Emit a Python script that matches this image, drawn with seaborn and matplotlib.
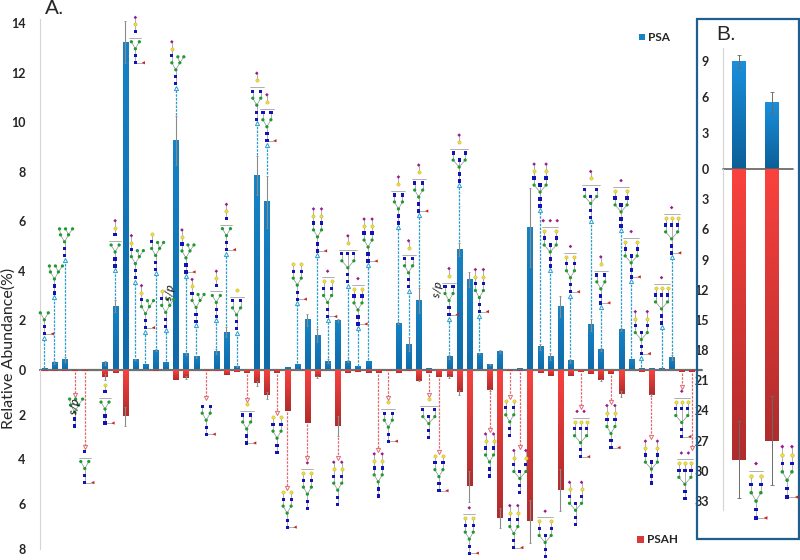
import matplotlib
matplotlib.use("Agg")
import matplotlib.pyplot as plt
import numpy as np
import pandas as pd
import seaborn as sns
from matplotlib.colors import LinearSegmentedColormap
from matplotlib.patches import Rectangle

# panel A, bar heights
psa = [0.05,0.3,0.43,0,0,0,0.3,2.58,13.25,0.43,0.22,0.8,0.3,9.27,0.65,0.53,0,0.73,1.53,0.15,0,7.85,6.8,0,0.12,
       0.22,2.02,1.4,0.36,2.0,0.36,0.13,0.36,0,0,1.89,1.05,2.8,0.07,0,0.53,4.87,3.65,0.67,0.22,0.74,0,0.08,5.75,
       0.94,0.56,2.58,0.38,0,1.82,0.83,0,1.62,0.43,0.08,0.07,0.05,0.5,0,0]
psah = [0.05,0.03,0.03,0.05,0.06,0.01,0.32,0.12,2.07,0,0,0.05,0,0.43,0.35,0,0.04,0.03,0.22,0.08,0.13,0.6,1.13,
        0.15,1.82,0,2.35,0.3,0,2.5,0.13,0.1,0.15,0.15,0.03,0.14,0.03,0.47,0.14,0.3,0.3,1.0,5.2,0,0.9,6.62,0.05,
        0.05,6.77,0.12,0.27,5.36,0.25,0.07,0.18,0.45,0.18,1.07,0,0.07,1.12,0,0,0.1,0.1]
psa_err = {1:.05,2:.1,6:.08,7:.25,8:.85,9:.03,11:.05,13:.98,14:.04,15:.05,17:.1,18:.2,19:.02,21:.8,22:1.05,26:.23,
           27:.25,28:.08,29:.05,30:.05,35:.03,36:.3,37:.5,40:.07,41:.27,42:.3,43:.03,44:.02,45:.05,48:1.6,49:.13,
           50:.14,51:.42,52:.08,54:.26,55:.05,57:.06,62:.1}
psah_err = {6:.12,8:.43,14:.07,21:.1,22:.15,27:.05,29:.45,37:.03,40:.05,41:.1,42:.7,44:.03,45:.45,48:.97,51:.94,
            55:.03,57:.15,60:.05}

# panel B
b_psa = [8.95, 5.55]
b_psa_err = [0.55, 0.85]
b_psah = [28.9, 27.0]
b_psah_err = [3.8, 4.45]

# glycans: bar, arrow tip, blue, gal, sia, fuc, bisect, extra mannose, drawn on the arrow or not
up_glycans = [
    (0,1.3,0,0,0,1,0,0,1),(1,2.95,0,0,0,0,0,1,1),(2,4.45,0,0,0,0,0,1,1),(7,4.04,1,1,1,0,0,0,1),
    (9,12.25,1,1,1,1,0,0,0),(9,3.57,1,1,1,0,0,1,1),(10,1.55,1,1,1,1,0,1,1),(11,3.9,1,1,0,0,0,1,1),
    (12,1.6,1,1,0,0,0,1,1),(13,11.4,1,1,1,0,0,1,1),(14,3.8,1,1,1,1,0,1,1),(15,1.8,1,1,1,0,0,1,1),
    (17,2.0,1,1,1,0,0,0,1),(18,4.7,1,1,1,1,0,0,1),(19,1.5,2,1,0,0,0,0,1),(21,9.97,2,1,1,0,0,0,1),
    (22,9.1,2,1,1,1,0,0,1),(25,2.7,2,2,0,1,0,0,1),(27,4.65,2,2,2,1,0,0,1),(28,2.0,2,2,1,1,0,0,1),
    (30,3.4,3,2,1,0,0,0,1),(31,1.7,2,2,1,1,0,0,1),(32,4.24,2,2,2,1,0,1,1),(35,5.78,2,1,1,0,0,0,1),
    (36,3.2,2,1,1,0,0,0,1),(37,6.26,2,1,1,1,0,0,1),(40,2.08,2,1,1,1,0,0,1),(41,7.47,2,1,1,0,1,0,1),
    (43,2.2,2,2,2,1,0,0,1),(49,6.46,2,2,2,0,1,0,1),(50,4.04,2,2,3,0,1,0,1),(52,3.0,2,2,1,1,0,1,1),
    (54,6.0,2,1,1,0,1,0,1),(55,2.55,2,1,1,1,0,0,1),(57,5.66,2,2,1,0,1,0,1),(58,3.6,2,2,1,1,1,0,1),
    (59,0.5,2,2,2,1,1,0,1),(61,1.74,3,3,1,0,0,0,1),(62,4.57,3,3,1,1,0,0,1),
]
down_glycans = [
    (3,1.12,0,0,0,0,0,1,1),(4,3.42,1,0,0,1,0,0,1),(6,0.45,1,1,0,1,0,0,0),(16,1.26,2,0,0,1,0,0,1),
    (20,1.34,2,1,0,1,0,0,1),(23,1.93,2,2,0,0,0,0,1),(24,5.28,2,2,0,1,0,0,1),(26,3.94,2,2,1,0,0,0,1),
    (29,3.94,2,2,2,0,0,0,1),(33,3.57,2,2,2,0,0,0,1),(34,1.26,2,1,0,1,0,0,1),(38,1.1,2,1,0,0,1,0,1),
    (39,3.65,2,2,0,1,0,0,1),(42,5.95,2,2,1,1,0,0,0),(44,2.68,2,2,2,0,0,0,1),(46,1.2,2,2,0,0,0,0,1),
    (46.4,5.88,2,2,2,1,0,0,0),(47,3.42,2,2,2,0,1,0,1),(49.5,6.1,2,2,1,0,1,0,0),(52.5,4.84,2,2,2,0,1,0,0),
    (53,1.64,3,3,2,1,0,0,1),(56,1.41,2,2,2,1,0,0,1),(60,3.0,2,2,2,0,1,0,1),(63,0.74,3,3,1,1,0,0,1),
    (64,3.5,3,3,2,0,0,0,1),
]
b_glycans = [(0.52,29.2,2,2,1,1,0,0,0),(1.47,27.6,2,2,2,1,0,0,0)]

BLUE, GREEN, YELLOW, PURPLE, FUC = "#1313b5", "#1f9a30", "#f0e040", "#9a1a8c", "#cc2020"

sns.set_style("white")
plt.rcParams["font.family"] = ["Lato", "DejaVu Sans"]

W, H = 800, 560
fig = plt.figure(figsize=(8, 5.6), dpi=100)


def axes_px(left, top, right, bottom):
    return fig.add_axes([left / W, 1 - bottom / H, (right - left) / W, (bottom - top) / H])


ax_top = axes_px(39.5, 18.5, 702, 370)
ax_bot = axes_px(39.5, 370, 702, 549)
bx_top = axes_px(722.7, 48, 793, 169)
bx_bot = axes_px(722.7, 169, 793, 510)
ov = fig.add_axes([0, 0, 1, 1], zorder=5)
ov.set_xlim(0, W)
ov.set_ylim(H, 0)
ov.axis("off")
ov.patch.set_alpha(0)

blue_cmap = LinearSegmentedColormap.from_list("b", ["#1a8fdc", "#0b5f98"])
blue_a_cmap = LinearSegmentedColormap.from_list("ba", ["#1583c6", "#0f6aa8"])
red_cmap = LinearSegmentedColormap.from_list("r", ["#f9423e", "#b02c2c"])


def bars(ax, values, width, cmap, flip, ylim, xlim, ticks):
    df = pd.DataFrame({"bar": range(len(values)), "val": values})
    sns.barplot(data=df, x="bar", y="val", width=width, color="#888888", errorbar=None, ax=ax, linewidth=0)
    grad = np.linspace(0, 1, 64).reshape(-1, 1)
    for p in list(ax.patches):
        h = p.get_height()
        if h <= 0:
            continue
        l, r = p.get_x(), p.get_x() + p.get_width()
        ext = (l, r, h, 0) if flip else (l, r, 0, h)
        ax.imshow(grad, extent=ext, cmap=cmap, aspect="auto", zorder=2, interpolation="bilinear")
        p.set_visible(False)
    ax.set_xlim(*xlim)
    ax.set_ylim(*ylim)
    ax.set_xticks([])
    ax.set_xlabel("")
    ax.set_ylabel("")
    ax.set_yticks(ticks)
    ax.tick_params(axis="y", length=3, width=0.8, color="#d0d0d0", pad=7, labelsize=9)
    for t in ax.get_yticklabels():
        t.set_fontweight("bold")
    for s in ["top", "right", "bottom"]:
        ax.spines[s].set_visible(False)
    ax.spines["left"].set_color("#d4d4d4")
    ax.patch.set_alpha(0)


xlim_a = (-0.474, 65.0)
xlim_b = (-0.5, 1.65)
bars(ax_top, psa, 0.5, blue_a_cmap, False, (0, 14.2), xlim_a, range(0, 15, 2))
bars(ax_bot, psah, 0.5, red_cmap, True, (8, 0), xlim_a, [2, 4, 6, 8])
bars(bx_top, b_psa, 0.41, blue_cmap, False, (0, 10.08), xlim_b, [0, 3, 6, 9])
bars(bx_bot, b_psah, 0.41, red_cmap, True, (33.9, 0), xlim_b, range(3, 34, 3))

# error bars
for i, e in psa_err.items():
    ax_top.errorbar(i, psa[i], yerr=e, color="#8a8a8a", lw=0.8, capsize=1, capthick=0.6, zorder=3)
for i, e in psah_err.items():
    ax_bot.errorbar(i, psah[i], yerr=e, color="#8a8a8a", lw=0.8, capsize=1, capthick=0.6, zorder=3)
for i in range(2):
    bx_top.errorbar(i, b_psa[i], yerr=b_psa_err[i], color="#6a6a6a", lw=0.7, capsize=1.5, capthick=0.6, zorder=3)
    bx_bot.errorbar(i, b_psah[i], yerr=b_psah_err[i], color="#6a6a6a", lw=0.7, capsize=1.5, capthick=0.6, zorder=3)

ax_top.axhline(0, color="#707070", lw=1.6, zorder=4, clip_on=False)
bx_top.axhline(0, color="#606060", lw=1.2, zorder=4, clip_on=False)


def to_px(ax, x, y):
    dx, dy = ax.transData.transform((x, y))
    return dx, H - dy


def glycan_height(n, g, s, extra, scale):
    h = 21
    if n == 0:
        return (h + (6 if extra else 0)) * scale
    h += 7
    if n == 1 and not extra:
        h += 4
    if g:
        h += 7
    if s:
        h += 7
    if g != n and n > 1:
        h += 4
    if g == n and s != n and s > 0:
        h += 4
    return h * scale


def glycan(cx, by, n, g, s, fuc, bis, extra, scale=1.0):
    # by = pixel row of the core GlcNAc, structure grows upward
    step = 7 * scale
    d = (6 if bis or n == 3 else 4) * scale
    pts = {"s": [], "o": [], "y": [], "p": [], "f": []}
    segs = []

    def add(kind, x, y, frm=None):
        pts[kind].append((x, y))
        if frm is not None:
            segs.append((frm, (x, y)))

    add("s", cx, by)
    add("s", cx, by - step, (cx, by))
    man = (cx, by - 2 * step)
    add("o", *man, (cx, by - step))
    y = by - 3 * step
    add("o", cx - d, y, man)
    add("o", cx + d, y, man)
    if bis:
        add("s", cx, y, man)
    if fuc:
        add("f", cx + 8 * scale, by, (cx, by))
    if n == 0:
        if extra:
            y2 = y - 6 * scale
            add("o", cx + d + 4 * scale, y2, (cx + d, y))
            add("o", cx + d - 3 * scale, y2, (cx + d, y))
            add("o", cx - d - 1 * scale, y2, (cx - d, y))
    else:
        if n == 1 and extra:
            # hybrid: one antenna on the left arm, two mannose on the right
            x0 = cx - d
            add("o", cx + d + 4 * scale, y - 6 * scale, (cx + d, y))
            add("o", cx + d - 2 * scale, y - 6 * scale, (cx + d, y))
            xs = [x0]
            froms = [(x0, y)]
            y -= step
        elif n == 1:
            y -= 4 * scale
            segs.append(((cx - 6 * scale, y), (cx + 6 * scale, y)))
            xs = [cx]
            froms = [None]
            y -= step * 0.9
        else:
            if n == 2:
                xs = [cx - d, cx + d]
                froms = [(cx - d, y), (cx + d, y)]
            else:
                xs = [cx - d, cx, cx + d]
                froms = [(cx - d, y), man, (cx + d, y)]
            y -= step
        for x, f in zip(xs, froms):
            add("s", x, y, f)
        if g == n and g > 0:
            y2 = y - step
            for x in xs:
                add("y", x, y2, (x, y))
            y = y2
            if s == n:
                y2 = y - step
                for x in xs:
                    add("p", x, y2, (x, y))
            elif s > 0:
                y -= 4 * scale
                segs.append(((xs[0] - 2, y), (xs[-1] + 2, y)))
                for k in range(s):
                    add("p", cx + (k - (s - 1) / 2) * 7 * scale, y - step * 0.9)
        elif g > 0:
            # bracket above the blue row when the branch is not fixed
            if n > 1:
                y -= 4 * scale
                segs.append(((xs[0] - 3, y), (xs[-1] + 3, y)))
                y0 = y - step
            else:
                y0 = y - step
                segs.append(((cx, y), (cx, y0)))
            add("y", cx, y0)
            if s > 0:
                add("p", cx, y0 - step, (cx, y0))
    for a, b in segs:
        ov.plot([a[0], b[0]], [a[1], b[1]], color="#8f8f8f", lw=0.5, zorder=1)
    sz = 5.5 * scale
    for kind, marker, col in [("s", "s", BLUE), ("o", "o", GREEN), ("y", "o", YELLOW), ("p", "D", PURPLE), ("f", "<", FUC)]:
        if pts[kind]:
            xy = np.array(pts[kind])
            ec = "#c8b828" if kind == "y" else "none"
            ov.scatter(xy[:, 0], xy[:, 1], s=sz * (0.6 if kind == "p" else 1), marker=marker, c=col,
                       edgecolors=ec, linewidths=0.4, zorder=2)


# arrows and glycans, panel A
for bar, tip, n, g, s, fuc, bis, extra, arrow in up_glycans:
    px, py = to_px(ax_top, bar, tip)
    if arrow:
        start = psa[int(bar)] + psa_err.get(int(bar), 0) + 0.05
        ax_top.plot([bar, bar], [start, tip], color="#2b9ecf", lw=0.9, ls=(0, (2, 1)), zorder=3)
        ax_top.plot(bar, tip, marker="^", ms=3, mfc="white", mec="#2b9ecf", mew=0.7, zorder=3)
    glycan(px, py - 4, n, g, s, fuc, bis, extra)

for bar, tip, n, g, s, fuc, bis, extra, arrow in down_glycans:
    px, py = to_px(ax_bot, bar, tip)
    if arrow:
        start = psah[int(bar)] + psah_err.get(int(bar), 0) + 0.05
        ax_bot.plot([bar, bar], [start, tip], color="#e06a72", lw=0.9, ls=(0, (2, 1)), zorder=3)
        ax_bot.plot(bar, tip, marker="v", ms=3, mfc="white", mec="#e06a72", mew=0.7, zorder=3)
    if bar == 64:
        px -= 7
    glycan(px, py + 4 + glycan_height(n, g, s, extra, 1.0), n, g, s, fuc, bis, extra)

for bar, top, n, g, s, fuc, bis, extra, arrow in b_glycans:
    px, py = to_px(bx_bot, bar, top)
    glycan(px, py + glycan_height(n, g, s, extra, 1.2), n, g, s, fuc, bis, extra, scale=1.2)

# labels
ov.text(8.5, 348, "Relative Abundance(%)", rotation=90, ha="center", va="center", fontsize=11.5)
ov.text(45, 8, "A.", fontsize=15, ha="left", va="center", family=["Liberation Sans"])
ov.text(716, 34, "B.", fontsize=15, ha="left", va="center", family=["Liberation Sans"])
for x, y in [(75, 406), (170, 292), (438, 289)]:
    ov.text(x, y, "s/p", rotation=82, style="italic", fontsize=8.5, ha="center", va="center", color="#111111")

ov.add_patch(Rectangle((638.5, 33.5), 6.5, 6.5, fc="#1583c6", ec="none"))
ov.text(648, 37.5, "PSA", fontsize=8.5, fontweight="bold", ha="left", va="center")
ov.add_patch(Rectangle((636.5, 536), 7, 7, fc="#d83a3a", ec="none"))
ov.text(647, 539.5, "PSAH", fontsize=8.5, fontweight="bold", ha="left", va="center")

# panel B frame
ov.add_patch(Rectangle((696.5, 18.5), 102.5, 520, fc="none", ec="#1f5f8f", lw=1.6))

fig.savefig("out.png", dpi=100)
